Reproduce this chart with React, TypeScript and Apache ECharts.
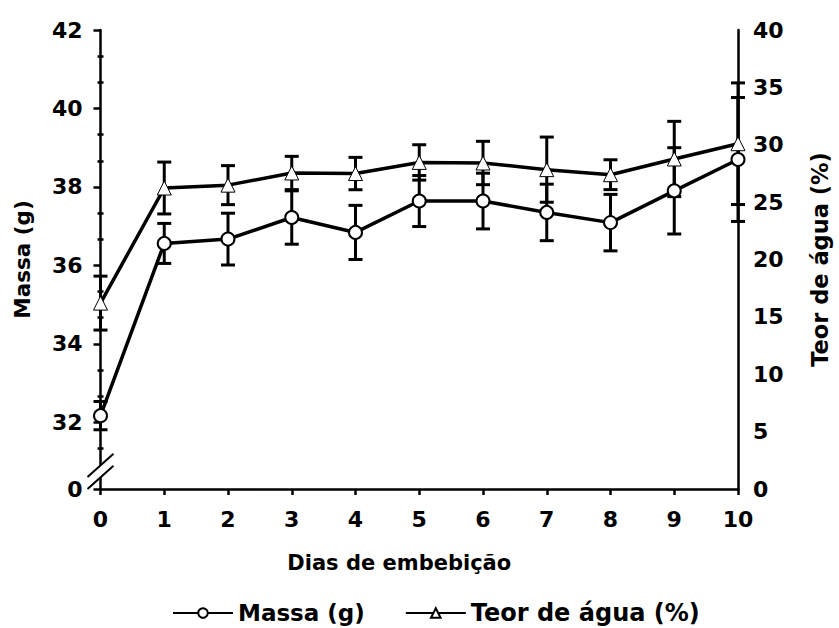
import React, { useEffect, useRef } from "react";
import * as echarts from "echarts";

const days = [0, 1, 2, 3, 4, 5, 6, 7, 8, 9, 10];
const massa = [32.17, 36.56, 36.67, 37.22, 36.84, 37.64, 37.64, 37.35, 37.09, 37.9, 38.7];
const massaErr = [0.36, 0.51, 0.66, 0.68, 0.69, 0.65, 0.71, 0.72, 0.72, 1.1, 1.58];
const teor = [16.2, 26.23, 26.48, 27.54, 27.49, 28.46, 28.41, 27.83, 27.39, 28.76, 30.09];
const teorErr = [2.35, 2.26, 1.7, 1.45, 1.41, 1.54, 1.89, 2.84, 1.3, 3.28, 5.3];
const leftTicks = [30.3, 32, 34, 36, 38, 40, 42];
const leftMinorTicks = [31.333, 32.667, 33.333, 34.667, 35.333, 36.667, 37.333, 38.667, 39.333, 40.667, 41.333];
const rightTicks = [0, 5, 10, 15, 20, 25, 30, 35, 40];

const FONT = "'DejaVu Sans', 'Liberation Sans', Arial, sans-serif";

const errRender = (params: any, api: any) => {
  const x = api.value(0);
  const lo = api.coord([x, api.value(1)]);
  const hi = api.coord([x, api.value(2)]);
  const w = 7;
  const st = { stroke: "#000", lineWidth: 3 };
  return {
    type: "group",
    children: [
      { type: "line", shape: { x1: lo[0], y1: lo[1], x2: hi[0], y2: hi[1] }, style: st },
      { type: "line", shape: { x1: lo[0] - w, y1: lo[1], x2: lo[0] + w, y2: lo[1] }, style: st },
      { type: "line", shape: { x1: hi[0] - w, y1: hi[1], x2: hi[0] + w, y2: hi[1] }, style: st },
    ],
  };
};

export default function App() {
  const ref = useRef<HTMLDivElement>(null);
  useEffect(() => {
    if (!ref.current) return;
    const chart = echarts.init(ref.current, undefined, { renderer: "svg" });
    const massaData = days.map((d, i) => [d, massa[i]]);
    const teorData = days.map((d, i) => [d, teor[i]]);
    const massaErrData = days.map((d, i) => [d, massa[i] - massaErr[i], massa[i] + massaErr[i]]);
    const teorErrData = days.map((d, i) => [d, teor[i] - teorErr[i], teor[i] + teorErr[i]]);
    const labelStyle = { color: "#000", fontFamily: FONT, fontWeight: "bold" as const, fontSize: 22 };
    chart.setOption({
      animation: false,
      backgroundColor: "#fff",
      grid: { left: 100.5, right: 98.5, top: 30, bottom: 139, containLabel: false },
      xAxis: {
        type: "value",
        min: 0,
        max: 10,
        interval: 1,
        axisLine: { lineStyle: { color: "#000", width: 2.5 } },
        axisTick: { show: true, length: 6, lineStyle: { color: "#000", width: 2.5 } },
        axisLabel: { ...labelStyle, margin: 19 },
        splitLine: { show: false },
        name: "Dias de embebição",
        nameLocation: "middle",
        nameGap: 63,
        nameTextStyle: { color: "#000", fontFamily: FONT, fontWeight: "bold", fontSize: 21, padding: [0, 40, 0, 0] },
      },
      yAxis: [
        {
          type: "value",
          position: "left",
          min: 30.3,
          max: 42,
          axisLine: { show: true, lineStyle: { color: "#000", width: 2.5 } },
          axisTick: { show: true, length: 7, customValues: leftTicks, lineStyle: { color: "#000", width: 2.5 } },
          axisLabel: {
            ...labelStyle,
            margin: 18,
            customValues: leftTicks,
            formatter: (v: number) => (v < 31 ? "0" : String(v)),
          },
          splitLine: { show: false },
          name: "Massa (g)",
          nameLocation: "middle",
          nameGap: 67,
          nameRotate: 90,
          nameTextStyle: { color: "#000", fontFamily: FONT, fontWeight: "bold", fontSize: 21.5 },
        },
        {
          type: "value",
          position: "right",
          min: 0,
          max: 40,
          interval: 5,
          axisLine: { show: true, lineStyle: { color: "#000", width: 2.5 } },
          axisTick: { show: false },
          axisLabel: { ...labelStyle, margin: 15, customValues: rightTicks },
          splitLine: { show: false },
          name: "Teor de água (%)",
          nameLocation: "middle",
          nameGap: 70,
          nameRotate: 90,
          nameTextStyle: { color: "#000", fontFamily: FONT, fontWeight: "bold", fontSize: 22.5 },
        },
        {
          type: "value",
          position: "left",
          min: 30.3,
          max: 42,
          axisLine: { show: false },
          axisTick: { show: true, length: 3, customValues: leftMinorTicks, lineStyle: { color: "#000", width: 2.5 } },
          axisLabel: { show: false },
          splitLine: { show: false },
        },
        {
          type: "value",
          position: "left",
          min: 30.3,
          max: 42,
          axisLine: { show: false },
          axisTick: { show: true, inside: true, length: 3, customValues: leftMinorTicks, lineStyle: { color: "#000", width: 2.5 } },
          axisLabel: { show: false },
          splitLine: { show: false },
        },
      ],
      legend: {
        left: 167,
        top: 596,
        itemWidth: 60,
        itemHeight: 12,
        itemGap: 40,
        data: [
          { name: "Massa (g)", textStyle: { fontSize: 23 } },
          { name: "Teor de água (%)", textStyle: { fontSize: 24 } },
        ],
        textStyle: { color: "#000", fontFamily: FONT, fontWeight: "bold", fontSize: 23 },
      },
      series: [
        {
          type: "custom",
          name: "errMassa",
          yAxisIndex: 0,
          renderItem: errRender,
          encode: { x: 0, y: [1, 2] },
          data: massaErrData,
          clip: false,
          z: 1,
        },
        {
          type: "custom",
          name: "errTeor",
          yAxisIndex: 1,
          renderItem: errRender,
          encode: { x: 0, y: [1, 2] },
          data: teorErrData,
          clip: false,
          z: 1,
        },
        {
          type: "line",
          name: "Massa (g)",
          yAxisIndex: 0,
          data: massaData,
          symbol: "circle",
          symbolSize: 13,
          lineStyle: { color: "#000", width: 3.5 },
          itemStyle: { color: "#fff", borderColor: "#000", borderWidth: 2 },
          z: 3,
        },
        {
          type: "line",
          name: "Teor de água (%)",
          yAxisIndex: 1,
          data: teorData,
          symbol: "triangle",
          symbolSize: 14,
          lineStyle: { color: "#000", width: 3.5 },
          itemStyle: { color: "#fff", borderColor: "#000", borderWidth: 1 },
          z: 3,
        },
      ],
    });
    const px = chart.convertToPixel({ xAxisIndex: 0 }, 0) as number;
    const py = chart.convertToPixel({ yAxisIndex: 0 }, 30.75) as number;
    const d = 13;
    const h = 12;
    chart.setOption({
      graphic: [
        {
          type: "polygon",
          z: 100,
          shape: { points: [[px - d, py + d * 0.9 - h / 2], [px + d, py - d * 0.9 - h / 2], [px + d, py - d * 0.9 + h / 2], [px - d, py + d * 0.9 + h / 2]] },
          style: { fill: "#fff", stroke: "none" },
        },
        {
          type: "line",
          z: 101,
          shape: { x1: px - d, y1: py + d * 0.9 - h / 2, x2: px + d, y2: py - d * 0.9 - h / 2 },
          style: { stroke: "#000", lineWidth: 2 },
        },
        {
          type: "line",
          z: 101,
          shape: { x1: px - d, y1: py + d * 0.9 + h / 2, x2: px + d, y2: py - d * 0.9 + h / 2 },
          style: { stroke: "#000", lineWidth: 2 },
        },
      ],
    });
    return () => chart.dispose();
  }, []);
  return <div ref={ref} style={{ position: "fixed", left: 0, top: 0, width: 839, height: 628 }} />;
}
